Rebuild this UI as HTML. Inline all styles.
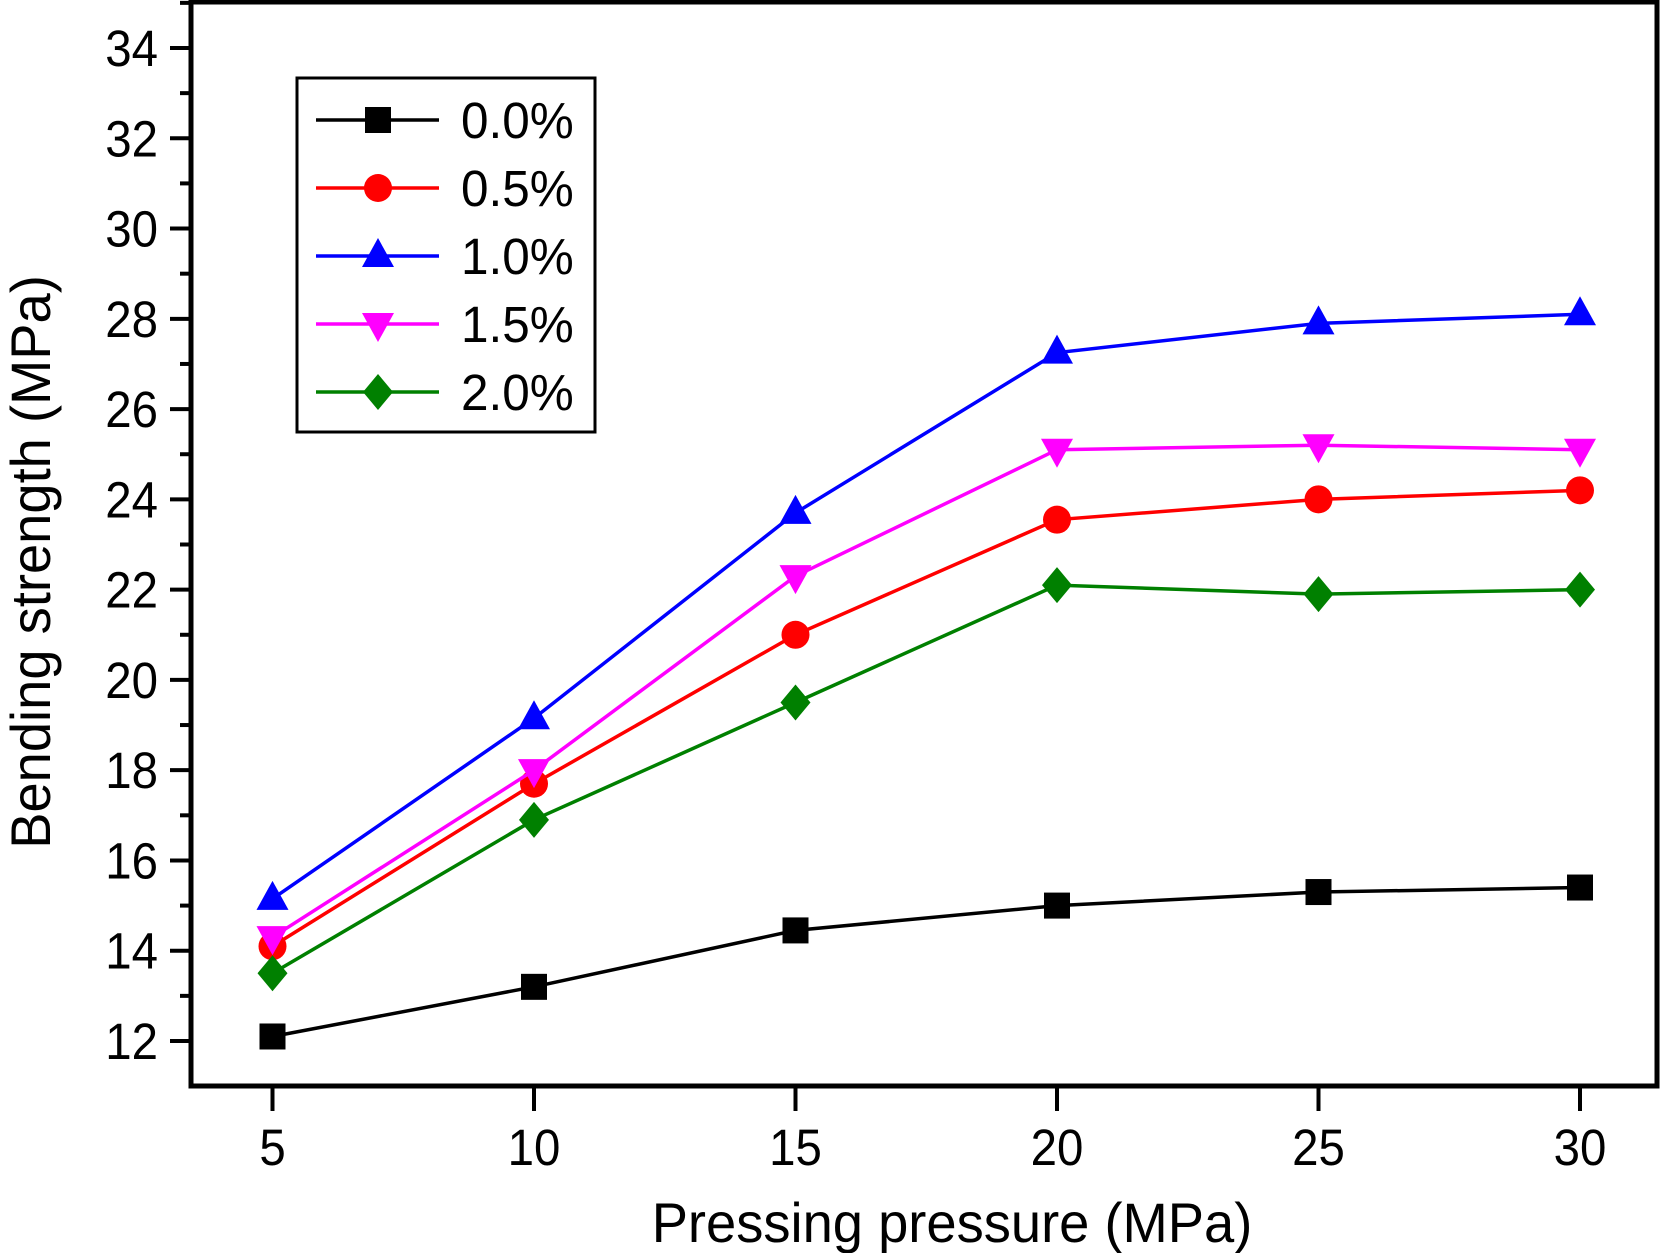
<!DOCTYPE html>
<html><head><meta charset="utf-8"><style>
html,body{margin:0;padding:0;background:#fff}
svg text{font-family:"Liberation Sans",sans-serif;fill:#000}
</style></head><body>
<svg id="chart" width="1662" height="1253" viewBox="0 0 1662 1253" xmlns="http://www.w3.org/2000/svg">
<g id="plot"></g>
</svg>
<script>
const categories=[5,10,15,20,25,30];
const seriesNames=["0.0%","0.5%","1.0%","1.5%","2.0%"];
const s00=[12.1,13.2,14.45,15.0,15.3,15.4];
const s05=[14.1,17.7,21.0,23.55,24.0,24.2];
const s10=[15.15,19.15,23.7,27.25,27.9,28.1];
const s15=[14.3,18.0,22.3,25.1,25.2,25.1];
const s20=[13.5,16.9,19.5,22.1,21.9,22.0];
const yTicks=[12,14,16,18,20,22,24,26,28,30,32,34];
const xTicks=[5,10,15,20,25,30];

const NS="http://www.w3.org/2000/svg";
const g=document.getElementById('plot');
const L=191,R=1657,T=2,B=1086;
function xs(v){return 272.5+(v-5)*(1580-272.5)/25;}
function ys(v){return 1041-(v-12)*(1041-48)/22;}
function el(t,a,p){const e=document.createElementNS(NS,t);for(const k in a)e.setAttribute(k,a[k]);(p||g).appendChild(e);return e;}
function txt(s,x,y,size,anchor,extra){const e=el('text',Object.assign({x:x,y:y,'font-size':size,'text-anchor':anchor},extra||{}));e.textContent=s;return e;}

const frame=el('rect',{x:L,y:T,width:R-L,height:B-T,fill:'none',stroke:'#000','stroke-width':5});



yTicks.forEach(v=>{
  const y=ys(v);
  const t=el('line',{x1:170,x2:L,y1:y,y2:y,stroke:'#000','stroke-width':4});
  
  
  const m=el('line',{x1:180,x2:L,y1:ys(v+1),y2:ys(v+1),stroke:'#000','stroke-width':4});
  
  
  const lb=txt(String(v),0,0,51,'end',{transform:`translate(158,${y+18}) scale(0.93,1)`});
  
  
});
xTicks.forEach(v=>{
  const x=xs(v);
  const t=el('line',{x1:x,x2:x,y1:B,y2:1111,stroke:'#000','stroke-width':4});
  
  
  const lb=txt(String(v),0,0,51,'middle',{transform:`translate(${x},1165) scale(0.93,1)`});
  
  
});
const xt=txt('Pressing pressure (MPa)',0,0,56,'middle',{transform:'translate(952,1242) scale(0.97,1)'});


const yt=txt('Bending strength (MPa)',0,0,56,'middle',{transform:'translate(50,562) rotate(-90) scale(0.97,1)'});



const colors=["#000000","#ff0000","#0000ff","#ff00ff","#008000"];
const shapes=["square","circle","tri","itri","diamond"];
const data=[s00,s05,s10,s15,s20];
function marker(shape,x,y,c){
  let e;
  if(shape==='square')e=el('rect',{x:x-13,y:y-13,width:26,height:26,fill:c});
  else if(shape==='circle')e=el('circle',{cx:x,cy:y,r:14,fill:c});
  else if(shape==='tri')e=el('polygon',{points:`${x},${y-18} ${x-16},${y+11} ${x+16},${y+11}`,fill:c});
  else if(shape==='itri')e=el('polygon',{points:`${x},${y+18} ${x-16},${y-11} ${x+16},${y-11}`,fill:c});
  else e=el('polygon',{points:`${x},${y-18} ${x+15},${y} ${x},${y+18} ${x-15},${y}`,fill:c});
  return e;
}
data.forEach((d,i)=>{
  const pl=el('polyline',{points:d.map((v,j)=>xs(categories[j])+','+ys(v)).join(' '),fill:'none',stroke:colors[i],'stroke-width':3.5});
  
  
  d.forEach((v,j)=>{
    const m=marker(shapes[i],xs(categories[j]),ys(v),colors[i]);
    
    
  });
});

const lg=el('rect',{x:297,y:78,width:298,height:354,fill:'#fff',stroke:'#000','stroke-width':3});


seriesNames.forEach((n,i)=>{
  const y=120+i*68;
  const ln=el('line',{x1:316,x2:439,y1:y,y2:y,stroke:colors[i],'stroke-width':3.5});
  
  
  const m=marker(shapes[i],378,y,colors[i]);
  
  
  const t=txt(n,0,0,51,'start',{transform:`translate(461,${y+18}) scale(0.97,1)`});
  
  
});
</script>
</body></html>
